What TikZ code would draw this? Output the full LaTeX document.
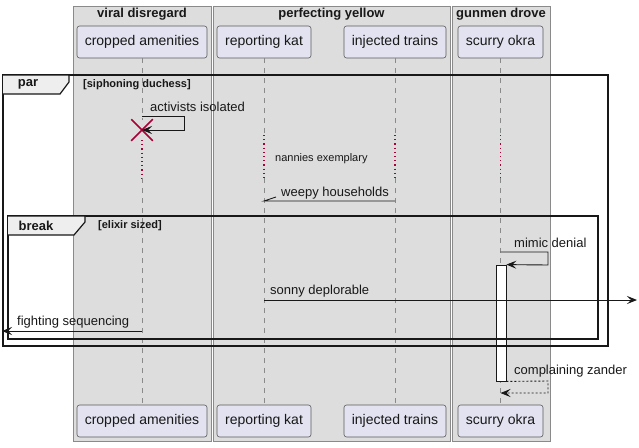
\documentclass[tikz,border=0pt]{standalone}
\usepackage{fontspec}
\setmainfont{Liberation Sans}
\usetikzlibrary{arrows.meta,shapes.misc}
\definecolor{boxfill}{HTML}{DDDDDD}
\definecolor{boxline}{HTML}{8A8A8A}
\definecolor{partfill}{HTML}{E2E2F0}
\definecolor{partline}{HTML}{5A5A5A}
\definecolor{ink}{HTML}{181818}
\definecolor{deadred}{HTML}{A80036}
\definecolor{tabfill}{HTML}{EEEEEE}
\tikzset{
  grp/.style={draw=boxline, fill=boxfill, line width=0.8pt},
  grptitle/.style={font=\fontsize{13}{15}\selectfont\bfseries, text=ink, inner sep=0},
  part/.style={draw=partline, fill=partfill, rounded corners=2.5pt, minimum height=32pt, inner sep=0, line width=0.6pt, font=\fontsize{14}{16}\selectfont, text=ink},
  lifeline/.style={draw=boxline, line width=0.8pt, dash pattern=on 5pt off 5pt},
  delayline/.style={draw=deadred, line width=1.2pt, dash pattern=on 1.2pt off 3pt},
  msg/.style={draw=ink, line width=0.9pt, -{Stealth[length=10pt,width=8pt,inset=4pt]}},
  retmsg/.style={msg, dash pattern=on 2pt off 2pt},
  msgtext/.style={font=\fontsize{13}{15}\selectfont, text=ink, inner sep=0, anchor=west},
  frame/.style={draw=ink, line width=1.6pt},
  tab/.style={draw=ink, fill=tabfill, line width=1.2pt},
  tabtext/.style={font=\fontsize{13}{15}\selectfont\bfseries, text=ink, inner sep=0},
  condtext/.style={font=\fontsize{11}{13}\selectfont\bfseries, text=ink, inner sep=0, anchor=west},
  activation/.style={draw=ink, fill=white, line width=0.8pt, minimum width=10pt, minimum height=116pt, inner sep=0},
}
\begin{document}
\begin{tikzpicture}[x=1pt,y=-1pt]
\useasboundingbox (0,0) rectangle (639,447);
% group boxes
\node[grp, minimum width=138pt, minimum height=435pt, inner sep=0, anchor=north west] (g1) at (73,6) {};
\node[grp, minimum width=237pt, minimum height=435pt, inner sep=0, anchor=north west] (g2) at (213,6) {};
\node[grp, minimum width=98pt, minimum height=435pt, inner sep=0, anchor=north west] (g3) at (452,6) {};
\node[grptitle] (t1) at (142,14.5) {viral disregard};
\node[grptitle] (t2) at (331.5,14.5) {perfecting yellow};
\node[grptitle] (t3) at (501,14.5) {gunmen drove};
% participants
\node[part, minimum width=130pt] (ca) at (142,42) {cropped amenities};
\node[part, minimum width=94pt] (rk) at (264,42) {reporting kat};
\node[part, minimum width=102pt] (it) at (395,42) {injected trains};
\node[part, minimum width=85pt] (so) at (500.5,42) {scurry okra};
\node[part, minimum width=130pt] (ca2) at (142,421) {cropped amenities};
\node[part, minimum width=94pt] (rk2) at (264,421) {reporting kat};
\node[part, minimum width=102pt] (it2) at (395,421) {injected trains};
\node[part, minimum width=85pt] (so2) at (500.5,421) {scurry okra};
% delay marks
\coordinate (dtop) at (0,135);
\coordinate (dbot) at (0,178);
\coordinate (xtop) at (0,120);
\coordinate (xbot) at (0,140);
% lifelines
\draw[lifeline] (ca.south) -- (ca.south |- xtop);
\draw[delayline] (ca.south |- xbot) -- (ca.south |- dbot);
\draw[lifeline] (ca.south |- dbot) -- (ca2.north);
\foreach \p in {rk,it,so}{
  \draw[lifeline] (\p.south) -- (\p.south |- dtop);
  \draw[delayline] (\p.south |- dtop) -- (\p.south |- dbot);
  \draw[lifeline] (\p.south |- dbot) -- (\p2.north);
}
% activation
\node[activation] (act) at (501,323) {};
% par frame
\draw[frame] (3,75) rectangle (608,346);
\draw[tab] (3,75) -- (69,75) -- (69,82) -- (60,94) -- (3,94);
\node[tabtext] (partxt) at (28,84.5) {par};
\node[condtext] (parcond) at (83,85) {[siphoning duchess]};
% break frame
\draw[frame] (8,216) rectangle (598,339);
\draw[tab] (8,216) -- (85,216) -- (85,222) -- (74,235) -- (8,235);
\node[tabtext] (brtxt) at (36,226) {break};
\node[condtext] (brcond) at (98,226) {[elixir sized]};
% activists isolated
\node[cross out, draw=deadred, line width=1.5pt, minimum size=20pt, inner sep=0] (kill) at (142,130) {};
\draw[msg] (ca.south |- 0,116) -- (184,116) -- (184,130) -- (kill.center);
\node[msgtext] (m1) at (150,107) {activists isolated};
% nannies exemplary
\node[font=\fontsize{11}{13}\selectfont, text=ink, inner sep=0, anchor=west] (delaytxt) at (275,159) {nannies exemplary};
% weepy households
\draw[draw=ink, line width=0.9pt] (it.south |- 0,201) -- (rk.south |- 0,201) -- ++(12,-4);
\node[msgtext] (m2) at (281,193) {weepy households};
% mimic denial
\draw[msg] (so.south |- 0,252) -- (548,252) -- (548,265) -- (act.north east);
\node[msgtext] (m3) at (514,243) {mimic denial};
% sonny deplorable
\coordinate (redge) at (637,300);
\draw[msg] (rk.south |- redge) -- (redge);
\node[msgtext] (m4) at (270,291) {sonny deplorable};
% fighting sequencing
\coordinate (ledge) at (2,331);
\draw[msg] (ca.south |- ledge) -- (ledge);
\node[msgtext] (m5) at (17,322) {fighting sequencing};
% complaining zander
\draw[retmsg] (act.south east) -- (548,381) -- (548,393) -- (so.south |- 0,393);
\node[msgtext] (m6) at (514,371) {complaining zander};
\end{tikzpicture}
\end{document}
